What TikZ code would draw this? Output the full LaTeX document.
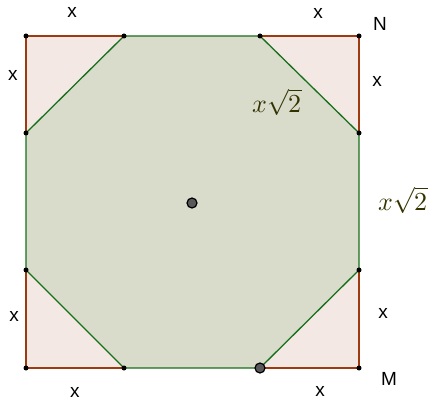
\documentclass[tikz,border=0pt]{standalone}
\usepackage{fontspec}
\setmainfont{Liberation Sans}
\usepackage{unicode-math}
\setmathfont{Latin Modern Math}
\definecolor{sqedge}{HTML}{9E3A10}
\definecolor{octedge}{HTML}{16701A}
\definecolor{octfill}{HTML}{D9DBCB}
\definecolor{trifill}{HTML}{F4E8E4}
\definecolor{lbl}{HTML}{333300}
\tikzset{
  vtx/.style={circle,fill=black,inner sep=0pt,minimum size=5pt},
  bigdot/.style={circle,draw=black,line width=1.2pt,fill=black!65,inner sep=0pt,minimum size=10pt},
  xlab/.style={font=\fontsize{19}{19}\selectfont,inner sep=0pt},
  mlab/.style={font=\fontsize{26}{26}\selectfont,text=lbl,inner sep=0pt},
  sqline/.style={draw=sqedge,line width=1.3pt},
  octline/.style={draw=octedge,line width=1.3pt},
}
\begin{document}
\begin{tikzpicture}[x=1pt,y=-1pt]
\useasboundingbox (0,0) rectangle (432,404);
% coordinates
\coordinate (A) at (26,36);
\coordinate (B) at (359,36);
\coordinate (C) at (359,368);
\coordinate (D) at (26,368);
\coordinate (P1) at (124,36);
\coordinate (P2) at (260,36);
\coordinate (P3) at (359,133);
\coordinate (P4) at (359,270);
\coordinate (P5) at (260,368);
\coordinate (P6) at (124,368);
\coordinate (P7) at (26,270);
\coordinate (P8) at (26,133);
% fills
\fill[trifill] (A) -- (B) -- (C) -- (D) -- cycle;
\fill[octfill] (P1) -- (P2) -- (P3) -- (P4) -- (P5) -- (P6) -- (P7) -- (P8) -- cycle;
% square edges (corner parts)
\draw[sqline] (P8) -- (A) -- (P1);
\draw[sqline] (P2) -- (B) -- (P3);
\draw[sqline] (P4) -- (C) -- (P5);
\draw[sqline] (P6) -- (D) -- (P7);
% octagon
\draw[octline] (P1) -- (P2) -- (P3) -- (P4) -- (P5) -- (P6) -- (P7) -- (P8) -- cycle;
% vertices
\foreach \p in {A,B,C,D,P1,P2,P3,P4,P6,P7,P8} \node[vtx] at (\p) {};
\node[bigdot] (Q) at (P5) {};
\node[bigdot] (O) at (192,203) {};
% labels
\node[xlab] (l1) at (72,12) {x};
\node[xlab] (l2) at (318,13) {x};
\node[xlab] (lN) at (380,24) {N};
\node[xlab] (l3) at (377,81) {x};
\node[xlab] (l4) at (383,313) {x};
\node[xlab] (lM) at (389,379) {M};
\node[xlab] (l5) at (320,391) {x};
\node[xlab] (l6) at (75,392) {x};
\node[xlab] (l7) at (14,316) {x};
\node[xlab] (l8) at (13,75) {x};
\node[mlab] (m1) at (277,102) {$x\sqrt{2}$};
\node[mlab] (m2) at (403,200) {$x\sqrt{2}$};
\end{tikzpicture}
\end{document}
